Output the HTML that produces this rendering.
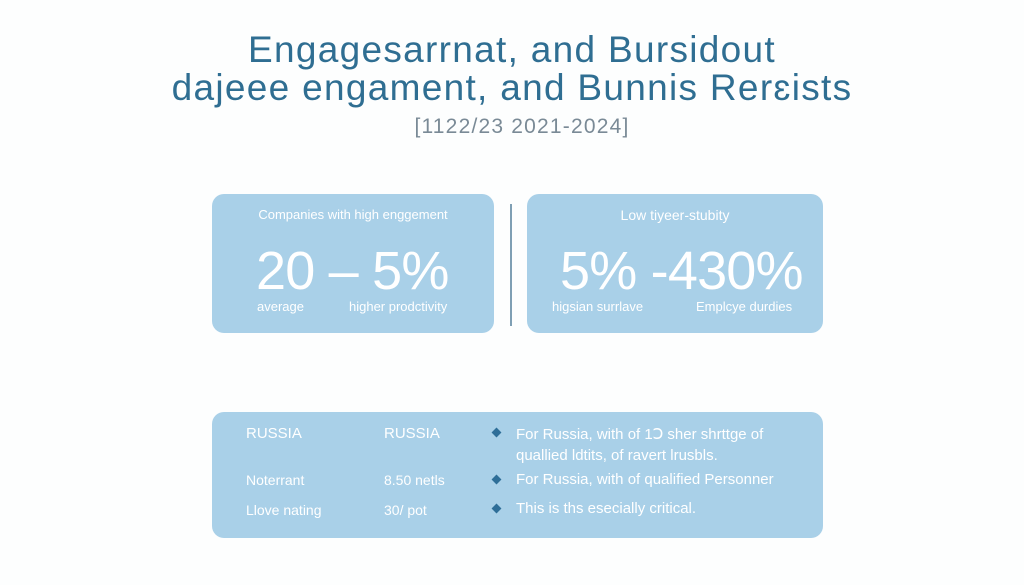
<!DOCTYPE html>
<html><head><meta charset="utf-8"><style>
body{margin:0;width:1024px;height:585px;background:#fdfefe;font-family:"Liberation Sans",sans-serif;position:relative;overflow:hidden}
.t{position:absolute;left:0;width:1024px;text-align:center;color:#2f6e92;white-space:nowrap}
.box{position:absolute;background:#a9d0e8;border-radius:12px}
.a{position:absolute;color:#fff;white-space:nowrap}
.d{position:absolute;width:7px;height:7px;background:#2e6e98;transform:rotate(45deg)}
</style></head><body>
<div class="t" style="top:29px;font-size:37px;letter-spacing:1.3px">Engagesarrnat, and Bursidout</div>
<div class="t" style="top:67px;font-size:37px;letter-spacing:1.3px">dajeee engament, and Bunnis Rerɛists</div>
<div class="t" style="top:115px;left:10px;font-size:21px;letter-spacing:1.2px;color:#7a8a96">[1122/23 2021-2024]</div>

<div class="box" style="left:212px;top:194px;width:282px;height:139px"></div>
<div style="position:absolute;left:510px;top:204px;width:2px;height:122px;background:#7f9fb4"></div>
<div class="box" style="left:527px;top:194px;width:296px;height:139px"></div>
<div class="box" style="left:212px;top:412px;width:611px;height:126px"></div>

<div class="a" style="left:212px;width:282px;text-align:center;top:207px;font-size:13px">Companies with high enggement</div>
<div class="a" style="left:256px;top:240px;font-size:54px;letter-spacing:-0.8px">20 – 5%</div>
<div class="a" style="left:257px;top:299px;font-size:13px">average</div>
<div class="a" style="left:349px;top:299px;font-size:13px">higher prodctivity</div>

<div class="a" style="left:527px;width:296px;text-align:center;top:207px;font-size:14px">Low tiyeer-stubity</div>
<div class="a" style="left:560px;top:240px;font-size:54px;letter-spacing:-0.8px">5% -430%</div>
<div class="a" style="left:552px;top:299px;font-size:13px">higsian surrlave</div>
<div class="a" style="left:696px;top:299px;font-size:13px">Emplcye durdies</div>

<div class="a" style="left:246px;top:425px;font-size:15px">RUSSIA</div>
<div class="a" style="left:384px;top:425px;font-size:15px">RUSSIA</div>
<div class="a" style="left:246px;top:472px;font-size:14px">Noterrant</div>
<div class="a" style="left:384px;top:472px;font-size:14px">8.50 netls</div>
<div class="a" style="left:246px;top:502px;font-size:14px">Llove nating</div>
<div class="a" style="left:384px;top:502px;font-size:14px">30/ pot</div>
<div class="d" style="left:493px;top:429px"></div>
<div class="d" style="left:493px;top:476px"></div>
<div class="d" style="left:493px;top:505px"></div>
<div class="a" style="left:516px;top:424px;font-size:15px;line-height:21px">For Russia, with of 1Ↄ sher shrttge of<br>quallied ldtits, of ravert lrusbls.</div>
<div class="a" style="left:516px;top:471px;font-size:15px">For Russia, with of qualified Personner</div>
<div class="a" style="left:516px;top:500px;font-size:15px">This is ths esecially critical.</div>
</body></html>
